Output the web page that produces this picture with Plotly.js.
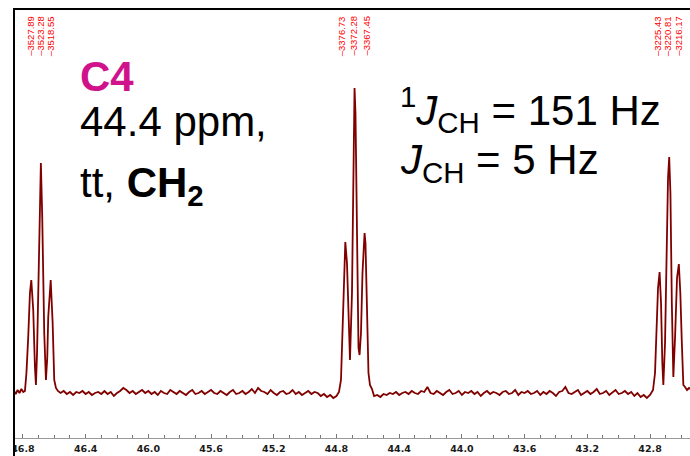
<!DOCTYPE html>
<html>
<head>
<meta charset="utf-8">
<script src="https://cdn.plot.ly/plotly-3.0.1.min.js"></script>
<style>html,body{margin:0;padding:0;background:#fff;}#chart{width:690px;height:456px;}</style>
</head>
<body>
<div id="chart"></div>
<script>
// ---- data (ppm, intensity above baseline) ----
var specMHz = 75.4677;
var peakLabelsHz = ['3527.89','3523.28','3518.55','3376.73','3372.28','3367.45','3225.43','3220.81','3216.17'];

var edgeX = [46.857, 46.846, 46.834, 46.822, 46.810, 46.798];
var edgeY = [2, -1, 3, 0, 4, 1];

var multAX = [46.7872, 46.7777, 46.7662, 46.7553, 46.7467, 46.7343, 46.7234, 46.7171, 46.7100, 46.7024, 46.6915, 46.6856, 46.6769, 46.6641, 46.6533, 46.6450, 46.6386, 46.6290, 46.6229, 46.6105, 46.6003, 46.5895, 46.5767];
var multAY = [2, 20, 56, 100, 113, 83, 26, 8, 40, 110, 193, 230, 176, 60, 13, 35, 76, 105, 113, 70, 13, 5, 2];

var base1X = [46.56,46.54,46.52,46.50,46.48,46.46,46.44,46.42,46.40,46.38,
              46.36,46.34,46.32,46.30,46.28,46.26,46.24,46.22,46.20,46.18,
              46.16,46.14,46.12,46.10,46.08,46.06,46.04,46.02,46.00,45.98,
              45.96,45.94,45.92,45.90,45.88,45.86,45.84,45.82,45.80,45.78,
              45.76,45.74,45.72,45.70,45.68,45.66,45.64,45.62,45.60,45.58,
              45.56,45.54,45.52,45.50,45.48,45.46,45.44,45.42,45.40,45.38,
              45.36,45.34,45.32,45.30,45.28,45.26,45.24,45.22,45.20,45.18,
              45.16,45.14,45.12,45.10,45.08,45.06,45.04,45.02,45.00,44.98,
              44.96,44.94,44.92,44.90,44.88,44.86,44.84,44.82,44.80];
var base1Y = [0, 2, -1, 1, -2, 1, 0, 2, -1, 1,
              -2, 0, 1, -1, 2, -1, 1, -3, 0, 2,
              5, 3, 0, 2, -1, 1, 3, 0, 2, -1,
              1, -2, 2, 0, -1, 3, 1, -1, 2, 0,
              -2, 1, 3, -1, 0, 2, -1, 1, 3, 0,
              -1, 2, 0, -2, 1, 3, -1, 0, 2, -1,
              1, 4, 0, 5, 2, 1, -1, 3, 0, -2,
              1, 2, -1, 0, 3, -1, 1, -2, 0, 2,
              -1, 1, 0, -3, -1, -4, -2, -5, -3];

var multBX = [44.7840, 44.7713, 44.7585, 44.7490, 44.7437, 44.7330, 44.7266, 44.7203, 44.7139, 44.7011, 44.6947, 44.6884, 44.6848, 44.6788, 44.6724, 44.6660, 44.6596, 44.6528, 44.6437, 44.6341, 44.6246, 44.6208, 44.6150, 44.6086, 44.6022, 44.5959, 44.5863, 44.5735];
var multBY = [1, 13, 80, 140, 151, 130, 90, 45, 33, 100, 200, 290, 305, 280, 180, 90, 45, 38, 60, 120, 158, 160, 150, 110, 55, 20, 8, 4];

var base2X = [44.56,44.54,44.52,44.50,44.48,44.46,44.44,44.42,44.40,44.38,
              44.36,44.34,44.32,44.30,44.28,44.26,44.24,44.22,44.20,44.18,
              44.16,44.14,44.12,44.10,44.08,44.06,44.04,44.02,44.00,43.98,
              43.96,43.94,43.92,43.90,43.88,43.86,43.84,43.82,43.80,43.78,
              43.76,43.74,43.72,43.70,43.68,43.66,43.64,43.62,43.60,43.58,
              43.56,43.54,43.52,43.50,43.48,43.46,43.44,43.42,43.40,43.38,
              43.36,43.34,43.32,43.30,43.28,43.26,43.24,43.22,43.20,43.18,
              43.16,43.14,43.12,43.10,43.08,43.06,43.04,43.02,43.00,42.98,
              42.96,42.94,42.92,42.90,42.88,42.86,42.84,42.82,42.80];
var base2Y = [-3, -2, -4, -1, -2, 0, -1, 1, -2, 0,
              1, -1, 2, 0, -1, 2, 1, 6, 0, -1,
              2, 0, -2, 1, 3, -1, 0, 2, -2, 1,
              0, 2, -1, 1, -3, 0, 2, -1, 1, 0,
              -2, 1, 2, -1, 0, 3, -2, 1, 0, 2,
              -1, 0, 2, -2, 1, -1, 2, 0, -3, 1,
              2, 6, 0, -1, 1, 3, -2, 0, 2, -1,
              1, 4, -1, 0, 2, -2, 1, 3, -1, 0,
              2, -1, 1, -3, 0, -4, -2, -5, -2];

var multCX = [42.7809, 42.7681, 42.7585, 42.7490, 42.7389, 42.7298, 42.7215, 42.7151, 42.7043, 42.6928, 42.6852, 42.6777, 42.6698, 42.6609, 42.6513, 42.6405, 42.6277, 42.6162, 42.6067, 42.5977, 42.5875, 42.5767, 42.5639, 42.5511, 42.5415];
var multCY = [3, 20, 66, 105, 121, 90, 30, 8, 50, 160, 215, 236, 200, 90, 16, 55, 115, 129, 100, 53, 8, 6, 3, 5, 4];

var specX = [].concat(edgeX, multAX, base1X, multBX, base2X, multCX);
var specY = [].concat(edgeY, multAY, base1Y, multBY, base2Y, multCY);

// ---- layout helpers (pixel -> paper) ----
function pX(px){ return (px - 14) / 676; }
function pY(py){ return (438 - py) / 429; }
var labelShift = [-0.5, 0, 0.5, -3, -1, 2, -1.5, -1, 0];   // label spreading (px)

var bigFont = {family: 'Liberation Sans, Arial, sans-serif', size: 42, color: '#000'};
var annotations = [
  {text: '<b>C4</b>', x: pX(78), y: pY(77), font: {family: bigFont.family, size: 42, color: '#D0138B'}},
  {text: '44.4 ppm,', x: pX(78), y: pY(122), font: bigFont},
  {text: 'tt, <b>CH<sub>2</sub></b>', x: pX(78), y: pY(185), font: bigFont},
  {text: '<sup>1</sup><i>J</i><sub>CH</sub> = 151 Hz', x: pX(398), y: pY(109), font: bigFont},
  {text: '<i>J</i><sub>CH</sub> = 5 Hz', x: pX(398), y: pY(163), font: bigFont}
].map(function(a){
  return Object.assign({xref: 'paper', yref: 'paper', xanchor: 'left', yanchor: 'middle', showarrow: false}, a);
});

peakLabelsHz.forEach(function(h, i){
  annotations.push({
    text: '\u2013' + h, xref: 'x', yref: 'paper',
    x: parseFloat(h) / specMHz, y: pY(36), xshift: labelShift[i],
    xanchor: 'center', yanchor: 'middle', textangle: -90, showarrow: false,
    font: {family: 'Liberation Sans, Arial, sans-serif', size: 9.5, color: '#FF0000'}
  });
});

var trace = {
  x: specX, y: specY, type: 'scatter', mode: 'lines',
  line: {color: '#800000', width: 1.8}, hoverinfo: 'skip'
};

var layout = {
  width: 690, height: 456,
  margin: {l: 14, r: 0, t: 9, b: 18, pad: 0},
  paper_bgcolor: '#fff', plot_bgcolor: '#fff',
  showlegend: false,
  xaxis: {
    range: [46.857, 42.545],
    showline: true, linecolor: '#999', linewidth: 1,
    ticks: 'inside', ticklen: 4, tickcolor: '#777', tickwidth: 1,
    tick0: 42.8, dtick: 0.4, tickformat: '.1f', ticklabelstandoff: 2,
    tickfont: {family: 'DejaVu Sans, sans-serif', size: 9.5, color: '#1a1a1a', weight: 'bold'},
    minor: {tick0: 42.8, dtick: 0.1, ticks: 'inside', ticklen: 3, tickcolor: '#777', showgrid: false},
    showgrid: false, zeroline: false, fixedrange: true
  },
  yaxis: {range: [-45, 384], visible: false, fixedrange: true},
  annotations: annotations,
  shapes: [
    {type: 'rect', xref: 'paper', yref: 'paper', x0: pX(0), x1: pX(13), y0: pY(456), y1: pY(439), fillcolor: '#fff', line: {width: 0}, layer: 'above'},
    {type: 'line', xref: 'paper', yref: 'paper', x0: 0, x1: 0, y0: pY(456), y1: pY(8), line: {color: '#000', width: 2}},
    {type: 'line', xref: 'paper', yref: 'paper', x0: 0, x1: pX(690), y0: 1, y1: 1, line: {color: '#000', width: 2}}
  ]
};

Plotly.newPlot('chart', [trace], layout, {displayModeBar: false, staticPlot: true});
</script>
</body>
</html>
